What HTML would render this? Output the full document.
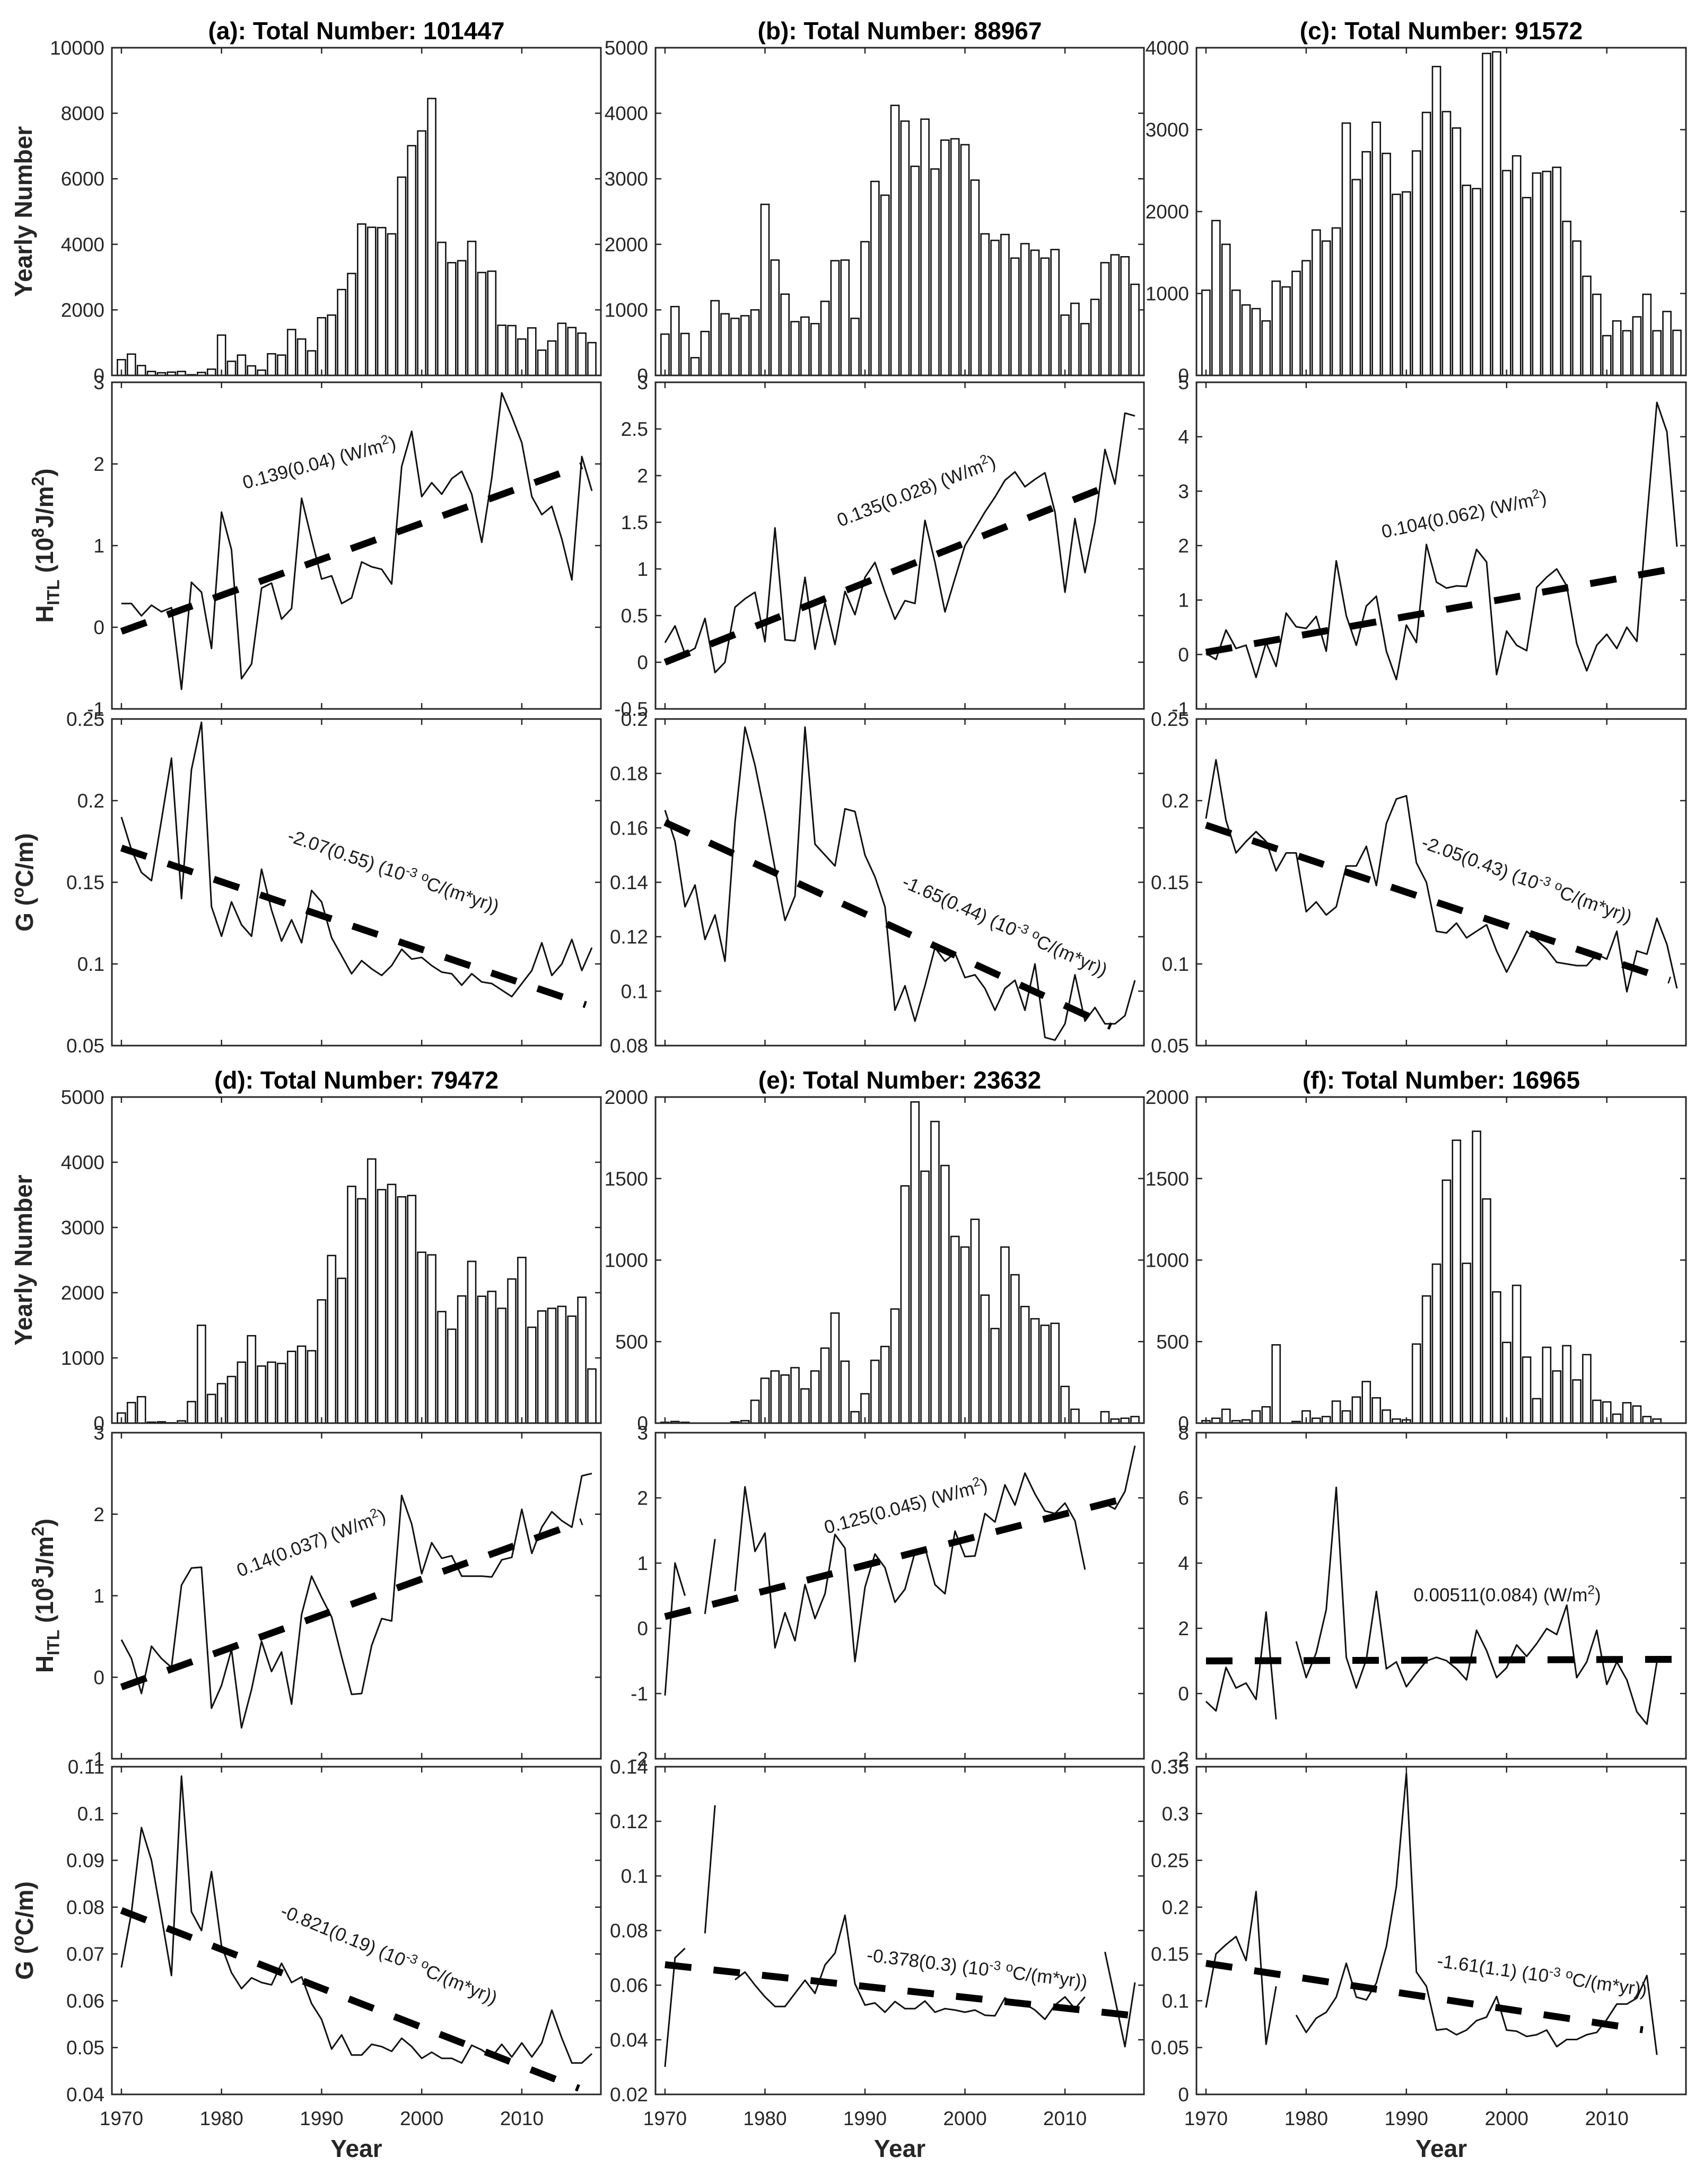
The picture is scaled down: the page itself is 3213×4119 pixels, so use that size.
<!DOCTYPE html>
<html><head><meta charset="utf-8">
<style>
html,body{margin:0;padding:0;background:#fff;}
svg{display:block;font-family:"Liberation Sans",Arial,sans-serif;}
</style></head>
<body>
<svg id="chart" width="3213" height="4119" viewBox="0 0 3213 4119">
<rect x="0" y="0" width="3213" height="4119" fill="#fff"/>
</svg>
<script>
// ---------- data ----------
const years = [1970,1971,1972,1973,1974,1975,1976,1977,1978,1979,1980,1981,1982,1983,1984,1985,1986,1987,1988,1989,1990,1991,1992,1993,1994,1995,1996,1997,1998,1999,2000,2001,2002,2003,2004,2005,2006,2007,2008,2009,2010,2011,2012,2013,2014,2015,2016,2017];
const xTickYears = [1970,1980,1990,2000,2010];

const barsA = [480,650,300,120,80,100,120,20,90,190,1230,430,620,290,160,660,620,1400,1110,750,1760,1840,2620,3110,4620,4520,4510,4320,6050,7010,7460,8450,4060,3440,3500,4090,3140,3180,1530,1520,1110,1450,770,1050,1590,1460,1290,1000];
const heatA = [0.29,0.29,0.14,0.27,0.19,0.24,-0.76,0.55,0.43,-0.26,1.41,0.95,-0.63,-0.45,0.48,0.54,0.1,0.23,1.58,1.08,0.59,0.63,0.29,0.36,0.8,0.74,0.71,0.53,1.97,2.4,1.6,1.77,1.63,1.82,1.91,1.63,1.04,1.83,2.87,2.58,2.26,1.6,1.38,1.48,1.08,0.58,2.09,1.67];
const gradA = [0.190,0.170,0.156,0.151,0.188,0.226,0.140,0.219,0.248,0.135,0.117,0.138,0.124,0.117,0.158,0.133,0.114,0.127,0.113,0.145,0.138,0.116,0.105,0.094,0.102,0.097,0.093,0.099,0.109,0.103,0.104,0.099,0.095,0.094,0.087,0.094,0.089,0.088,0.084,0.080,0.088,0.096,0.113,0.093,0.100,0.115,0.096,0.110];

const barsB = [630,1050,640,270,670,1140,940,870,910,1000,2610,1760,1240,820,890,790,1130,1750,1760,870,2040,2960,2750,4120,3880,3190,3910,3150,3590,3610,3520,2980,2160,2060,2150,1790,2010,1910,1790,1920,920,1100,790,1160,1720,1840,1810,1390];
const heatB = [0.21,0.39,0.09,0.15,0.47,-0.11,0.0,0.59,0.68,0.75,0.22,1.44,0.24,0.23,0.91,0.14,0.64,0.19,0.76,0.51,0.91,1.07,0.75,0.46,0.66,0.63,1.52,1.07,0.54,0.90,1.25,1.43,1.61,1.77,1.95,2.04,1.88,1.96,2.03,1.61,0.75,1.54,0.96,1.5,2.28,1.91,2.67,2.64];
const gradB = [0.1665,0.155,0.131,0.139,0.119,0.128,0.111,0.162,0.197,0.183,0.165,0.145,0.126,0.135,0.197,0.154,0.150,0.146,0.167,0.166,0.150,0.142,0.131,0.093,0.102,0.089,0.102,0.116,0.111,0.114,0.105,0.106,0.101,0.093,0.101,0.104,0.093,0.110,0.083,0.082,0.088,0.106,0.089,0.094,0.088,0.088,0.091,0.104];

const barsC = [1040,1890,1600,1040,860,815,665,1150,1080,1270,1400,1775,1640,1800,3080,2390,2730,3090,2710,2210,2240,2740,3210,3770,3220,3020,2320,2280,3930,3950,2500,2680,2170,2470,2490,2540,1880,1640,1210,990,485,665,545,715,990,545,780,550];
const heatC = [0.02,-0.09,0.45,0.11,0.17,-0.42,0.22,-0.22,0.76,0.51,0.48,0.70,0.06,1.72,0.71,0.17,0.89,1.07,0.06,-0.46,0.54,0.22,2.02,1.33,1.22,1.26,1.25,1.93,1.70,-0.37,0.43,0.17,0.07,1.23,1.42,1.57,1.26,0.2,-0.3,0.17,0.37,0.11,0.5,0.24,2.5,4.63,4.09,1.98];
const gradC = [0.189,0.225,0.188,0.168,0.175,0.181,0.175,0.157,0.168,0.168,0.132,0.138,0.130,0.135,0.160,0.160,0.172,0.148,0.186,0.201,0.203,0.162,0.150,0.120,0.119,0.125,0.116,0.120,0.124,0.108,0.095,0.107,0.120,0.115,0.109,0.101,0.100,0.099,0.099,0.106,0.103,0.120,0.083,0.108,0.106,0.128,0.112,0.085];

const barsD = [155,315,405,15,20,5,35,330,1500,440,605,715,935,1340,875,935,915,1100,1180,1110,1890,2570,2220,3630,3440,4050,3580,3660,3470,3490,2620,2580,1710,1440,1950,2480,1945,2020,1760,2210,2540,1470,1720,1760,1790,1640,1930,830];
const heatD = [0.46,0.23,-0.2,0.38,0.23,0.12,1.13,1.34,1.35,-0.38,-0.1,0.34,-0.62,-0.15,0.44,0.07,0.31,-0.33,0.77,1.24,0.98,0.74,0.25,-0.21,-0.2,0.39,0.72,0.69,2.23,1.88,1.27,1.65,1.46,1.49,1.24,1.24,1.24,1.23,1.44,1.47,2.06,1.52,1.84,2.03,1.92,1.84,2.47,2.5];
const gradD = [0.0671,0.0788,0.097,0.090,0.078,0.0654,0.108,0.079,0.075,0.0876,0.0717,0.066,0.0626,0.0649,0.0639,0.0634,0.068,0.0639,0.0651,0.0594,0.056,0.0497,0.0527,0.0484,0.0484,0.0507,0.0502,0.0492,0.052,0.0502,0.0477,0.049,0.0477,0.0477,0.0467,0.0505,0.0495,0.048,0.0507,0.048,0.051,0.048,0.051,0.058,0.052,0.0467,0.0467,0.0487];

const barsE = [5,10,5,0,0,0,0,8,15,140,275,320,295,340,210,320,460,675,380,70,180,385,470,700,1455,1970,1545,1850,1580,1145,1080,1250,785,580,1080,910,715,640,600,612,225,85,0,0,70,25,30,40];
const heatE = [-1.03,1.0,0.5,null,0.22,1.37,null,0.57,2.17,1.18,1.46,-0.3,0.24,-0.19,0.67,0.15,0.53,1.44,1.23,-0.51,0.63,1.14,0.93,0.40,0.60,1.17,1.24,0.67,0.53,1.49,1.10,1.11,1.76,1.63,2.2,1.89,2.38,2.06,1.80,1.76,1.92,1.65,0.9,null,1.91,1.83,2.1,2.8];
const gradE = [0.0301,0.070,0.0735,null,0.079,0.1259,null,0.062,0.0648,0.060,0.0557,0.0522,0.0522,0.057,0.0618,0.057,0.0674,0.0717,0.0856,0.0605,0.0527,0.0535,0.0501,0.054,0.0514,0.0514,0.0542,0.0501,0.0514,0.0509,0.0501,0.0509,0.049,0.0488,0.0553,0.0531,0.0531,0.0509,0.0475,0.0527,0.0557,0.0514,0.0557,null,0.0722,0.055,0.0375,0.061];

const barsF = [15,30,85,15,20,75,100,480,0,10,75,30,40,135,75,160,255,155,80,25,20,485,780,975,1490,1735,980,1790,1375,805,495,845,405,150,465,320,475,265,420,140,130,55,125,105,40,25,0,0];
const heatF = [-0.24,-0.53,0.8,0.17,0.32,-0.18,2.5,-0.79,null,1.6,0.49,1.25,2.57,6.32,1.11,0.17,1.04,3.13,0.76,0.97,0.21,0.62,1.0,1.11,1.01,0.76,0.42,1.94,1.32,0.49,0.79,1.49,1.14,1.53,1.99,1.81,2.71,0.49,0.97,1.94,0.28,0.97,0.42,-0.56,-0.94,0.97,null,null];
const gradF = [0.0927,0.150,0.160,0.1686,0.143,0.2166,0.0536,0.1155,null,0.0847,0.0662,0.0814,0.0877,0.104,0.140,0.104,0.101,0.119,0.158,0.222,0.343,0.1307,0.1155,0.0687,0.070,0.0637,0.0687,0.0788,0.0826,0.1046,0.0687,0.0675,0.0619,0.0637,0.0687,0.051,0.0586,0.0586,0.0637,0.0662,0.080,0.0965,0.0965,0.1029,0.1269,0.0422,null,null];

// trend lines: [startYear, endYear, startValue, endValue]
const heatTrendA = [1970,2016,-0.05,1.98];
const gradTrendA = [1970,2016.4,0.171,0.075];
const heatTrendB = [1970,2015.3,0.0,1.93];
const gradTrendB = [1970,2014.6,0.162,0.087];
const heatTrendC = [1970,2016.8,0.04,1.58];
const gradTrendC = [1970,2016.3,0.185,0.090];
const heatTrendD = [1970,2016,-0.12,1.91];
const gradTrendD = [1970,2015.7,0.0793,0.0413];
const heatTrendE = [1970,2017,0.18,2.03];
const gradTrendE = [1970,2016.5,0.0675,0.049];
const heatTrendF = [1970,2016.7,1.0,1.05];
const gradTrendF = [1970,2013.6,0.140,0.069];

const titles = ["(a): Total Number: 101447","(b): Total Number: 88967","(c): Total Number: 91572","(d): Total Number: 79472","(e): Total Number: 23632","(f): Total Number: 16965"];
const heatNotes = ["0.139(0.04) (W/m^{2})","0.135(0.028) (W/m^{2})","0.104(0.062) (W/m^{2})","0.14(0.037) (W/m^{2})","0.125(0.045) (W/m^{2})","0.00511(0.084) (W/m^{2})"];
const gradNotes = ["-2.07(0.55) (10^{-3} ^{o}C/(m*yr))","-1.65(0.44) (10^{-3} ^{o}C/(m*yr))","-2.05(0.43) (10^{-3} ^{o}C/(m*yr))","-0.821(0.19) (10^{-3} ^{o}C/(m*yr))","-0.378(0.3) (10^{-3} ^{o}C/(m*yr))","-1.61(1.1) (10^{-3} ^{o}C/(m*yr))"];

const barTicksA = ["0","2000","4000","6000","8000","10000"];
const barTicksB = ["0","1000","2000","3000","4000","5000"];
const barTicksC = ["0","1000","2000","3000","4000"];
const barTicksD = ["0","1000","2000","3000","4000","5000"];
const barTicksE = ["0","500","1000","1500","2000"];
const barTicksF = ["0","500","1000","1500","2000"];
const heatTicksA = ["-1","0","1","2","3"];
const heatTicksB = ["-0.5","0","0.5","1","1.5","2","2.5","3"];
const heatTicksC = ["-1","0","1","2","3","4","5"];
const heatTicksD = ["-1","0","1","2","3"];
const heatTicksE = ["-2","-1","0","1","2","3"];
const heatTicksF = ["-2","0","2","4","6","8"];
const gradTicksA = ["0.05","0.1","0.15","0.2","0.25"];
const gradTicksB = ["0.08","0.1","0.12","0.14","0.16","0.18","0.2"];
const gradTicksC = ["0.05","0.1","0.15","0.2","0.25"];
const gradTicksD = ["0.04","0.05","0.06","0.07","0.08","0.09","0.1","0.11"];
const gradTicksE = ["0.02","0.04","0.06","0.08","0.1","0.12","0.14"];
const gradTicksF = ["0","0.05","0.1","0.15","0.2","0.25","0.3","0.35"];

// ---------- layout ----------
const XMIN = 1969.05, XMAX = 2017.9;
const cols = [[211,1133],[1236,2157],[2256,3179]];
const rowsTop = [[90,708],[721,1337],[1356,1972]];
const rowsBot = [[2069,2684],[2702,3317],[3332,3950]];

const panels = [
 {id:'a',col:0,rows:rowsTop,bars:barsA,bt:barTicksA,heat:heatA,ht:heatTicksA,hTr:heatTrendA,grad:gradA,gt:gradTicksA,gTr:gradTrendA,hn:[605,884,-15],gn:[738,1654,19],bottom:false},
 {id:'b',col:1,rows:rowsTop,bars:barsB,bt:barTicksB,heat:heatB,ht:heatTicksB,hTr:heatTrendB,grad:gradB,gt:gradTicksB,gTr:gradTrendB,hn:[1732,937,-21],gn:[1890,1757,24],bottom:false},
 {id:'c',col:2,rows:rowsTop,bars:barsC,bt:barTicksC,heat:heatC,ht:heatTicksC,hTr:heatTrendC,grad:gradC,gt:gradTicksC,gTr:gradTrendC,hn:[2763,982,-12],gn:[2875,1670,20],bottom:false},
 {id:'d',col:0,rows:rowsBot,bars:barsD,bt:barTicksD,heat:heatD,ht:heatTicksD,hTr:heatTrendD,grad:gradD,gt:gradTicksD,gTr:gradTrendD,hn:[591,2921,-21],gn:[729,3697,22.5],bottom:true},
 {id:'e',col:1,rows:rowsBot,bars:barsE,bt:barTicksE,heat:heatE,ht:heatTicksE,hTr:heatTrendE,grad:gradE,gt:gradTicksE,gTr:gradTrendE,hn:[1711,2852,-15],gn:[1841,3724,7],bottom:true},
 {id:'f',col:2,rows:rowsBot,bars:barsF,bt:barTicksF,heat:heatF,ht:heatTicksF,hTr:heatTrendF,grad:gradF,gt:gradTicksF,gTr:gradTrendF,hn:[2842,3020,0],gn:[2906,3737,8],bottom:true}
];

const svg = document.getElementById('chart');
const SVGNS = svg.namespaceURI;
const AX = '#262626';
const NOTE_FS = 35;
function mk(tag, attrs, parent){
  const e = document.createElementNS(SVGNS, tag);
  for (const k in attrs) e.setAttribute(k, attrs[k]);
  (parent || svg).appendChild(e);
  return e;
}
function richText(el, str, fs){
  const re = /([\^_])\{([^}]*)\}/g;
  let last = 0, m, shift = 0;
  while ((m = re.exec(str)) !== null){
    if (m.index > last){
      const t = mk('tspan', {dy: -shift}, el); t.textContent = str.slice(last, m.index); shift = 0;
    }
    const d = m[1] === '^' ? -fs*0.38 : fs*0.25;
    const t = mk('tspan', {dy: d - shift, 'font-size': fs*0.7}, el); t.textContent = m[2];
    shift = d;
    last = re.lastIndex;
  }
  if (last < str.length){ const t = mk('tspan', {dy: -shift}, el); t.textContent = str.slice(last); }
}

function makeAxes(g, x0, x1, y0, y1, ticks, showX, kind){
  const ymin = parseFloat(ticks[0]), ymax = parseFloat(ticks[ticks.length-1]);
  const sx = yr => x0 + (yr - XMIN) / (XMAX - XMIN) * (x1 - x0);
  const sy = v => y1 - (v - ymin) / (ymax - ymin) * (y1 - y0);
  mk('rect', {x:x0, y:y0, width:x1-x0, height:y1-y0, fill:'#fff'}, g);
  return {sx, sy, ymin, ymax, finish(){
    const frame = mk('rect', {x:x0, y:y0, width:x1-x0, height:y1-y0, fill:'none', stroke:AX, 'stroke-width':3}, g);
    
    
    xTickYears.forEach(yr => {
      const x = sx(yr);
      const t1 = mk('line', {x1:x, x2:x, y1:y1, y2:y1-11, stroke:AX, 'stroke-width':2.5}, g);
      
      
      const t2 = mk('line', {x1:x, x2:x, y1:y0, y2:y0+11, stroke:AX, 'stroke-width':2.5}, g);
      
      
      if (showX){
        const lb = mk('text', {x:x, y:y1+58, 'text-anchor':'middle', 'font-size':37, fill:AX}, g);
        
        
        lb.textContent = yr;
      }
    });
    ticks.forEach(s => {
      const y = sy(parseFloat(s));
      const t1 = mk('line', {x1:x0, x2:x0+11, y1:y, y2:y, stroke:AX, 'stroke-width':2.5}, g);
      
      
      const t2 = mk('line', {x1:x1, x2:x1-11, y1:y, y2:y, stroke:AX, 'stroke-width':2.5}, g);
      
      
      const lb = mk('text', {x:x0-14, y:y+13, 'text-anchor':'end', 'font-size':37, fill:AX}, g);
      
      
      lb.textContent = s;
    });
  }};
}

function drawLine(g, ax, vals, name){
  let d = '', pen = false;
  vals.forEach((v, i) => {
    if (v === null || v === undefined){ pen = false; return; }
    d += (pen ? 'L' : 'M') + ax.sx(years[i]).toFixed(1) + ' ' + ax.sy(v).toFixed(1) + ' ';
    pen = true;
  });
  const p = mk('path', {d:d, fill:'none', stroke:'#111', 'stroke-width':3, 'stroke-linejoin':'round'}, g);
  
  
}
function drawTrend(g, ax, tr, name){
  const l = mk('line', {x1:ax.sx(tr[0]), y1:ax.sy(tr[2]), x2:ax.sx(tr[1]), y2:ax.sy(tr[3]), stroke:'#000', 'stroke-width':13, 'stroke-dasharray':'50 42'}, g);
  
  
}
function drawNote(g, pos, str, name){
  const t = mk('text', {x:pos[0], y:pos[1], 'text-anchor':'middle', 'font-size':NOTE_FS, fill:'#1a1a1a', transform:'rotate(' + pos[2] + ' ' + pos[0] + ' ' + pos[1] + ')'}, g);
  
  
  richText(t, str, NOTE_FS);
}

panels.forEach((p, pi) => {
  const [x0, x1] = cols[p.col];
  const pg = mk('g', {});
  
  

  const title = mk('text', {x:(x0+x1)/2, y:p.rows[0][0]-16, 'text-anchor':'middle', 'font-size':46, 'font-weight':'bold', fill:'#000'}, pg);
  
  
  title.textContent = titles[pi];

  // bar chart
  const bg = mk('g', {}, pg);
  
  
  const ba = makeAxes(bg, x0, x1, p.rows[0][0], p.rows[0][1], p.bt, false, 'bar');
  const bw = 0.8 * (x1 - x0) / (XMAX - XMIN);
  p.bars.forEach((v, i) => {
    if (!v) return;
    const r = mk('rect', {x:ba.sx(years[i]) - bw/2, y:ba.sy(v), width:bw, height:ba.sy(0) - ba.sy(v), fill:'#fff', stroke:'#111', 'stroke-width':2.6}, bg);
    
    
  });
  ba.finish();

  // heat content
  const hg = mk('g', {}, pg);
  
  
  const ha = makeAxes(hg, x0, x1, p.rows[1][0], p.rows[1][1], p.ht, false, 'heat');
  drawLine(hg, ha, p.heat, 'heat-content-line');
  drawTrend(hg, ha, p.hTr, 'heat-trend-line');
  drawNote(hg, p.hn, heatNotes[pi], 'heat-trend-annotation');
  ha.finish();

  // gradient
  const gg = mk('g', {}, pg);
  
  
  const ga = makeAxes(gg, x0, x1, p.rows[2][0], p.rows[2][1], p.gt, p.bottom, 'gradient');
  drawLine(gg, ga, p.grad, 'gradient-line');
  drawTrend(gg, ga, p.gTr, 'gradient-trend-line');
  drawNote(gg, p.gn, gradNotes[pi], 'gradient-trend-annotation');
  ga.finish();

  if (p.bottom){
    const xl = mk('text', {x:(x0+x1)/2, y:4068, 'text-anchor':'middle', 'font-size':46, 'font-weight':'bold', fill:'#262626'}, pg);
    
    
    xl.textContent = 'Year';
  }
  if (p.col === 0){
    const labs = [['Yearly Number', 60], ['H_{ITL} (10^{8}J/m^{2})', 100], ['G (^{o}C/m)', 62]];
    labs.forEach((L, k) => {
      const cy = (p.rows[k][0] + p.rows[k][1]) / 2;
      const t = mk('text', {x:L[1], y:cy, 'text-anchor':'middle', 'font-size':46, 'font-weight':'bold', fill:'#262626', transform:'rotate(-90 ' + L[1] + ' ' + cy + ')'}, pg);
      
      
      t.setAttribute('dy', '16');
      richText(t, L[0], 46);
    });
  }
});
</script>
</body></html>
